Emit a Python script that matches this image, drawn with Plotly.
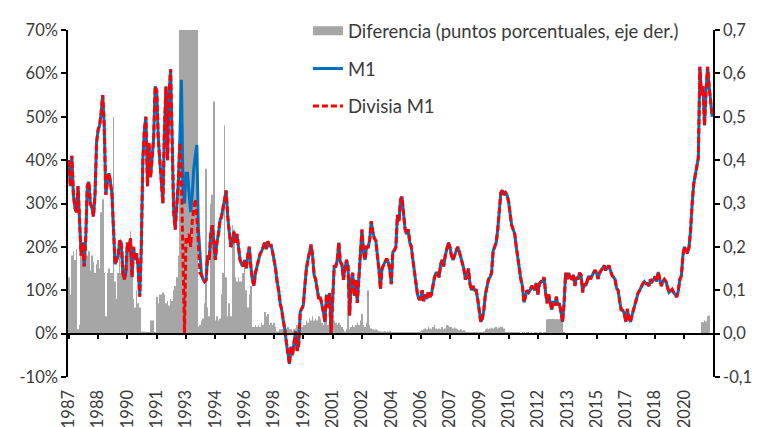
import plotly.graph_objects as go

# Monthly year-on-year growth (%), January 1987 - October 2021
m1_1987 = [40, 34, 41, 32, 29, 28, 34, 24, 18, 21, 15.5, 22]
m1_1988 = [34, 35, 30, 29, 27, 32, 44, 47, 48, 51, 55, 48]
m1_1989 = [32, 35, 37, 35, 32, 24, 16, 17, 18, 21.5, 21, 14]
m1_1990 = [12.5, 14, 21, 19, 22, 13, 20, 17, 18.5, 15, 8.5, 20]
m1_1991 = [40, 47, 50, 34, 44, 36, 41, 45, 57, 56, 45, 40]
m1_1992 = [36, 30, 47, 57, 40, 55, 61, 44, 28, 24, 29, 35]
m1_1993 = [45, 58.5, 34, 30, 37, 37, 32, 28, 32, 38, 41, 43.5]
m1_1994 = [24, 18, 13.5, 12.5, 12, 12.4, 18, 17, 23, 25, 20, 17]
m1_1995 = [21, 23, 26, 27, 29, 31, 33, 27, 23, 20, 21, 23.5]
m1_1996 = [21, 23, 20, 17, 16, 15.5, 17, 15, 18, 20, 15.5, 12.4]
m1_1997 = [11, 14, 15.5, 17, 18.4, 19, 20, 21, 19.5, 21.3, 20, 20.6]
m1_1998 = [19, 17, 15, 12, 10, 7, 5.5, 3, 1, -2, -5, -7]
m1_1999 = [-3, -5, -2, 0.5, -4, -2.5, 5, 6, 6.5, 11, 15, 17]
m1_2000 = [18.5, 20.5, 18, 13.5, 12.5, 10, 8, 8.5, 7, 5, 2.7, 9]
m1_2001 = [6, 9.4, -0.2, 10, 15.5, 15.5, 17, 21, 16.5, 16, 12.4, 15]
m1_2002 = [17, 15.5, 4.2, 12.4, 14, 8.7, 12.4, 7.1, 12, 17.6, 24, 19]
m1_2003 = [17, 20, 20, 21.5, 25.9, 23.6, 22, 21.4, 18.4, 14.7, 10.3, 15]
m1_2004 = [15.8, 16.5, 17.3, 16.5, 15, 11.4, 18.8, 19.2, 20, 27.4, 25.9, 31]
m1_2005 = [31.5, 27.4, 24, 22.9, 24, 21, 20, 17, 14, 11, 9, 8]
m1_2006 = [8, 10, 7.5, 9, 8, 9.5, 8.5, 9, 11, 13, 14, 14]
m1_2007 = [13, 16, 17, 15.5, 18, 19.5, 21, 20, 18, 17, 18, 19]
m1_2008 = [20, 19, 17.5, 16, 15, 12.5, 13, 15, 11.5, 10, 11, 10]
m1_2009 = [10, 8, 5, 2.7, 3.5, 5.5, 9, 11, 12.5, 13, 14, 19]
m1_2010 = [20, 21, 24, 29, 32.5, 33, 32, 32.5, 32, 30.5, 27, 25]
m1_2011 = [24, 23, 20, 17, 15, 12.5, 11, 7.2, 9, 10, 9.5, 10]
m1_2012 = [11, 10.5, 10, 11.7, 9, 11.5, 12, 12, 13, 9.5, 7, 9]
m1_2013 = [7, 5.5, 7.5, 6.5, 8.5, 6.5, 7, 5, 2.7, 7, 14, 12.5]
m1_2014 = [14, 13, 12.5, 13.5, 11, 13, 12.5, 14, 13.5, 9.5, 11.5, 11]
m1_2015 = [12.5, 13.3, 12.6, 13.3, 14, 14.6, 14, 12.6, 14, 14.6, 15.3, 15.7]
m1_2016 = [14.6, 15.3, 15.7, 14.6, 13.5, 13, 12.5, 10.5, 10, 7.5, 5.5, 5.4]
m1_2017 = [4.7, 2.7, 5.7, 3.5, 2.7, 4.2, 5.5, 7, 8, 9.4, 10, 11]
m1_2018 = [11.5, 12, 11.5, 11.5, 11, 12.5, 12, 12.5, 13.2, 12, 14.2, 12.5]
m1_2019 = [11, 12, 12.5, 12, 10.5, 9.5, 9.8, 10.2, 9.5, 9, 8.5, 9.8]
m1_2020 = [12.5, 13.3, 18, 20, 19.2, 18.5, 20, 24, 30, 34.5, 36.5, 39]
m1_2021 = [40.5, 61.5, 55, 57, 48, 56, 61.5, 57, 53, 50]

# Divisia M1 follows M1 except from January 1993 to February 1994
divisia_1993 = [44, 36, 18, 0, 22, 21, 23, 20, 26, 29, 31, 27]
divisia_1994_start = [19, 14]

# Difference (right axis), same months
dif_1987 = [0.13, 0.09, 0.18, 0.19, 0.17, 0.195, 0.01, 0.02, 0.19, 0.18, 0.185, 0.165]
dif_1988 = [0.18, 0.19, 0.145, 0.18, 0.165, 0.14, 0.16, 0.17, 0.15, 0.28, 0.31, 0.14]
dif_1989 = [0.04, 0.14, 0.15, 0.14, 0.14, 0.50, 0.12, 0.08, 0.14, 0.18, 0.14, 0.19]
dif_1990 = [0.15, 0.18, 0.15, 0.19, 0.236, 0.18, 0.08, 0.06, 0.10, 0.07, 0.06, 0.005]
dif_1991 = [0.005, 0.005, 0.003, 0.002, 0.003, 0.03, 0.03, 0.03, 0.003, 0.085, 0.07, 0.09]
dif_1992 = [0.09, 0.095, 0.09, 0.07, 0.075, 0.065, 0.08, 0.075, 0.1, 0.11, 0.13, 0.18]
dif_1993 = [0.9, 1.2, 1.5, 1.1, 0.95, 1.3, 1.0, 0.9, 1.4, 1.2, 0.85, 0.8]
dif_1994 = [0.016, 0.02, 0.03, 0.035, 0.07, 0.38, 0.06, 0.04, 0.30, 0.32, 0.535, 0.03]
dif_1995 = [0.04, 0.03, 0.035, 0.09, 0.14, 0.48, 0.13, 0.04, 0.07, 0.04, 0.25, 0.24]
dif_1996 = [0.13, 0.12, 0.13, 0.12, 0.12, 0.14, 0.17, 0.10, 0.06, 0.09, 0.11, 0.015]
dif_1997 = [0.015, 0.02, 0.015, 0.02, 0.015, 0.025, 0.02, 0.05, 0.04, 0.045, 0.02, 0.025]
dif_1998 = [0.02, 0.025, 0.015, 0.005, 0.005, 0.01, 0.01, 0.01, 0.008, 0.012, 0.015, 0.01]
dif_1999 = [0.01, 0.005, 0.01, 0.012, 0.02, 0.015, 0.02, 0.015, 0.02, 0.02, 0.03, 0.025]
dif_2000 = [0.035, 0.03, 0.04, 0.03, 0.035, 0.03, 0.04, 0.035, 0.025, 0.02, 0.03, 0.035]
dif_2001 = [0.02, 0.025, 0.03, 0.025, 0.03, 0.025, 0.02, 0.025, 0.02, 0.015, 0.01, 0.005]
dif_2002 = [0.01, 0.065, 0.01, 0.015, 0.02, 0.015, 0.02, 0.025, 0.02, 0.03, 0.045, 0.02]
dif_2003 = [0.015, 0.025, 0.10, 0.02, 0.012, 0.01, 0.008, 0.01, 0.008, 0.006, 0.005, 0.005]
dif_2004 = [0.005, 0.006, 0.004, 0.005, 0.006, 0.004, 0.003, 0.004, 0.003, 0.003, 0.002, 0.003]
dif_2005 = [0.003, 0.002, 0.003, 0.003, 0.002, 0.003, 0.002, 0.003, 0.004, 0.003, 0.003, 0.004]
dif_2006 = [0.005, 0.008, 0.01, 0.012, 0.01, 0.015, 0.012, 0.01, 0.015, 0.02, 0.012, 0.01]
dif_2007 = [0.012, 0.01, 0.015, 0.01, 0.012, 0.02, 0.018, 0.015, 0.016, 0.012, 0.014, 0.012]
dif_2008 = [0.01, 0.008, 0.01, 0.006, 0.008, 0.005, 0.004, 0.003, 0.004, 0.003, 0.003, 0.004]
dif_2009 = [0.003, 0.002, 0.003, 0.004, 0.003, 0.005, 0.01, 0.012, 0.01, 0.012, 0.014, 0.012]
dif_2010 = [0.014, 0.015, 0.012, 0.014, 0.016, 0.015, 0.012, 0.004, 0.003, 0.002, 0.003, 0.002]
dif_2011 = [0.002, 0.002, 0.003, 0.002, 0.002, 0.001, 0.002, 0.002, 0.001, 0.002, 0.002, 0.001]
dif_2012 = [0.002, 0.001, 0.002, 0.002, 0.001, 0.002, 0.002, 0.001, 0.002, 0.004, 0.033, 0.034]
dif_2013 = [0.034, 0.033, 0.034, 0.033, 0.034, 0.033, 0.034, 0.033, 0.034, 0.002, 0.001, 0.0]
dif_2014 = [0.0, 0.0, 0.0, 0.0, 0.0, 0.0, 0.0, 0.0, 0.0, 0.0, 0.0, 0.0]
dif_2015 = [0.0, 0.0, 0.0, 0.0, 0.0, 0.0, 0.0, 0.0, 0.0, 0.0, 0.0, 0.0]
dif_2016 = [0.0, 0.0, 0.0, 0.0, 0.0, 0.0, 0.0, 0.0, 0.0, 0.0, 0.0, 0.0]
dif_2017 = [0.0, 0.0, 0.0, 0.0, 0.0, 0.0, 0.0, 0.0, 0.0, 0.0, 0.0, 0.0]
dif_2018 = [0.0, 0.0, 0.0, 0.0, 0.0, 0.0, 0.0, 0.0, 0.0, 0.0, 0.0, 0.0]
dif_2019 = [0.0, 0.0, 0.0, 0.0, 0.0, 0.0, 0.0, 0.0, 0.0, 0.0, 0.0, 0.0]
dif_2020 = [0.0, 0.0, 0.0, 0.0, 0.0, 0.0, 0.0, 0.0, 0.0, 0.0, 0.0, 0.0]
dif_2021 = [0.0, 0.0, 0.027, 0.026, 0.03, 0.028, 0.04, 0.042, 0.0, 0.0]

# Category-axis labels, one every 19 months starting January 1987
tick_labels = ["1987", "1988", "1990", "1991", "1993", "1994", "1996", "1998",
               "1999", "2001", "2002", "2004", "2006", "2007", "2009", "2010",
               "2012", "2013", "2015", "2017", "2018", "2020"]
label_step = 19

left_ticks = [-10, 0, 10, 20, 30, 40, 50, 60, 70]
left_labels = ["-10%", "0%", "10%", "20%", "30%", "40%", "50%", "60%", "70%"]
right_ticks = [-0.1, 0.0, 0.1, 0.2, 0.3, 0.4, 0.5, 0.6, 0.7]
right_labels = ["-0,1", "0,0", "0,1", "0,2", "0,3", "0,4", "0,5", "0,6", "0,7"]

m1 = (m1_1987 + m1_1988 + m1_1989 + m1_1990 + m1_1991 + m1_1992 + m1_1993
      + m1_1994 + m1_1995 + m1_1996 + m1_1997 + m1_1998 + m1_1999 + m1_2000
      + m1_2001 + m1_2002 + m1_2003 + m1_2004 + m1_2005 + m1_2006 + m1_2007
      + m1_2008 + m1_2009 + m1_2010 + m1_2011 + m1_2012 + m1_2013 + m1_2014
      + m1_2015 + m1_2016 + m1_2017 + m1_2018 + m1_2019 + m1_2020 + m1_2021)
divisia = m1[:72] + divisia_1993 + divisia_1994_start + m1[86:]
dif = (dif_1987 + dif_1988 + dif_1989 + dif_1990 + dif_1991 + dif_1992
       + dif_1993 + dif_1994 + dif_1995 + dif_1996 + dif_1997 + dif_1998
       + dif_1999 + dif_2000 + dif_2001 + dif_2002 + dif_2003 + dif_2004
       + dif_2005 + dif_2006 + dif_2007 + dif_2008 + dif_2009 + dif_2010
       + dif_2011 + dif_2012 + dif_2013 + dif_2014 + dif_2015 + dif_2016
       + dif_2017 + dif_2018 + dif_2019 + dif_2020 + dif_2021)

n = len(m1)
x = list(range(n))
label_pos = [k * label_step for k in range(len(tick_labels))]

FONT = "Lato"
TXT = "#3a3a3a"
GRAY = "#A6A6A6"
BLUE = "#0070C0"
RED = "#FF0000"
DIF_NAME = "Diferencia (puntos porcentuales, eje der.)"

fig = go.Figure()

# bars on the right-hand axis (drawn underneath the lines)
fig.add_trace(go.Bar(x=x, y=dif, name=DIF_NAME, marker_color=GRAY,
                     marker_line_width=0, yaxis="y",
                     showlegend=False, legendgroup="g1"))
# legend key for the bars: a wide grey band
fig.add_trace(go.Scatter(x=[None], y=[None], mode="lines", name=DIF_NAME,
                         line=dict(color=GRAY, width=9), yaxis="y2",
                         legendgroup="g1"))
fig.add_trace(go.Scatter(x=x, y=m1, mode="lines", name="M1",
                         line=dict(color=BLUE, width=3), yaxis="y2",
                         legendgroup="g2"))
fig.add_trace(go.Scatter(x=x, y=divisia, mode="lines", name="Divisia M1",
                         line=dict(color=RED, width=3, dash="6px,3px"),
                         yaxis="y2", legendgroup="g3"))

axis_common = dict(showgrid=False, zeroline=False, showline=True,
                   linecolor="black", linewidth=1.5, ticks="outside",
                   ticklen=5, tickwidth=1.5, tickcolor="black",
                   automargin=False,
                   tickfont=dict(family=FONT, size=16.5, color=TXT))

fig.update_layout(
    width=763, height=427,
    margin=dict(l=68, r=50, t=20, b=50),
    paper_bgcolor="white", plot_bgcolor="white",
    bargap=0.6,
    font=dict(family=FONT, size=16, color=TXT),
    # category axis sits on the zero line; labels are pushed down below the plot
    xaxis=dict(range=[-0.5, n - 0.5], tickmode="array", tickvals=label_pos,
               ticktext=tick_labels, tickangle=-90, showgrid=False,
               zeroline=False, showline=True, linecolor="black",
               linewidth=1.5, ticks="outside", ticklen=5, tickwidth=1.5,
               tickcolor="black", anchor="free", position=0.125,
               ticklabelstandoff=44, automargin=False,
               tickfont=dict(family=FONT, size=16.5, color=TXT)),
    yaxis=dict(range=[-0.1, 0.7], side="right", tickmode="array",
               tickvals=right_ticks, ticktext=right_labels, **axis_common),
    yaxis2=dict(range=[-10, 70], side="left", overlaying="y",
                tickmode="array", tickvals=left_ticks, ticktext=left_labels,
                **axis_common),
    legend=dict(x=0.372, y=1.051, xanchor="left", yanchor="top",
                bgcolor="rgba(0,0,0,0)", traceorder="grouped",
                tracegroupgap=10.5, font=dict(family=FONT, size=18.5, color=TXT)),
    showlegend=True,
)

fig.write_html("out.html")
